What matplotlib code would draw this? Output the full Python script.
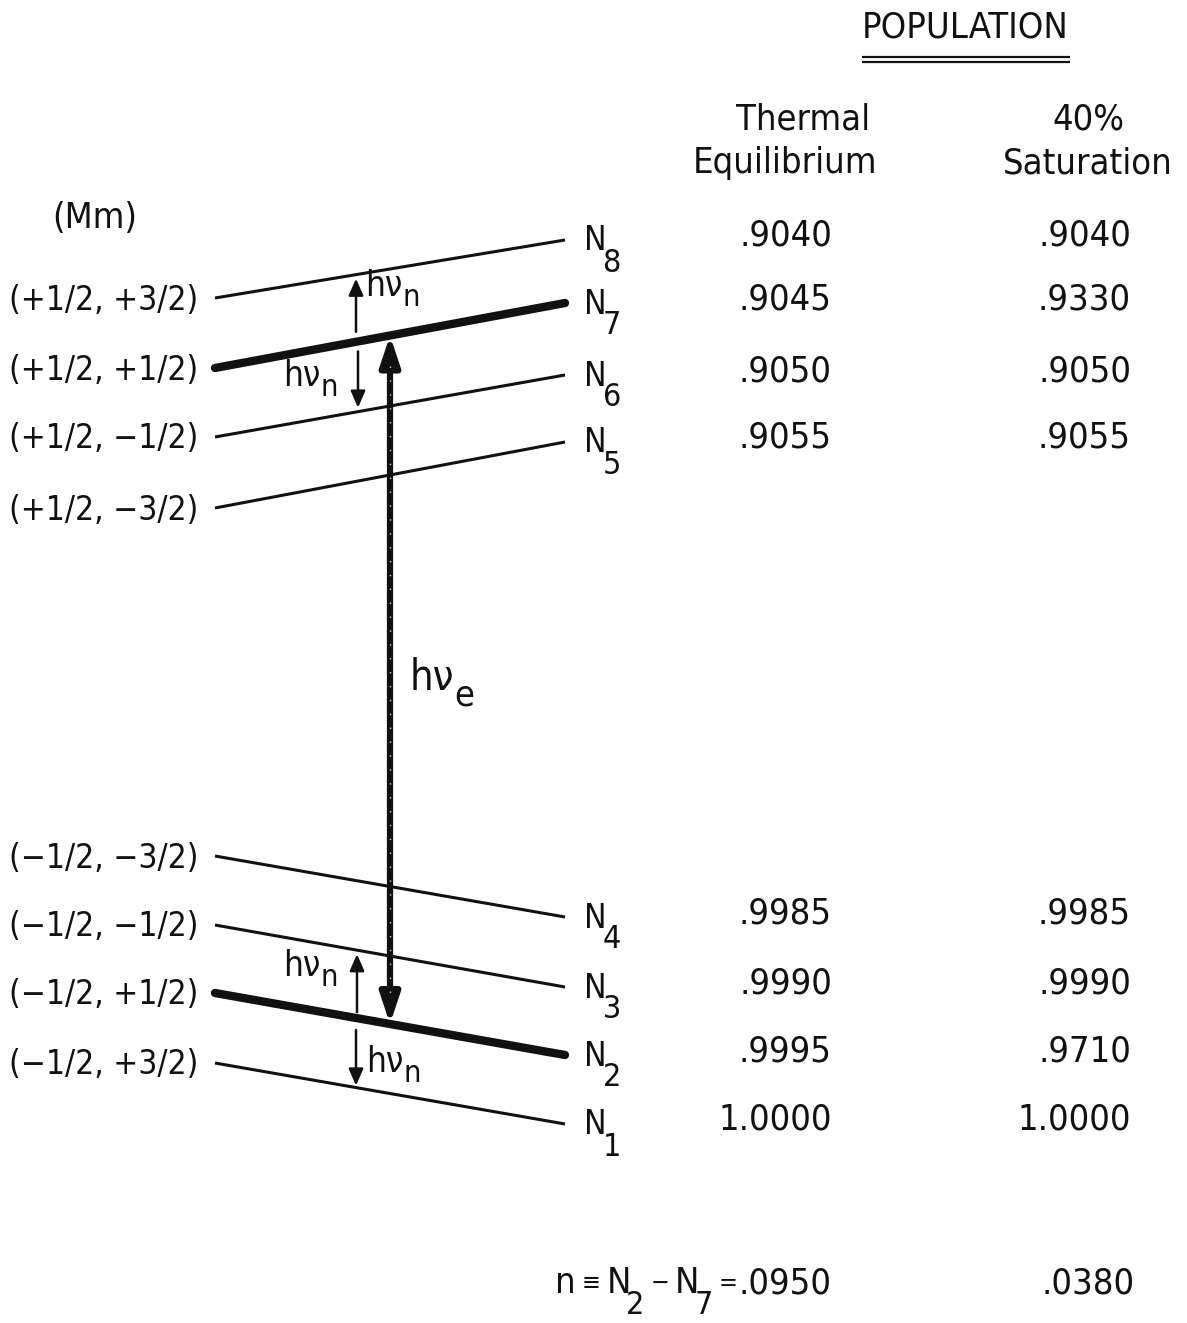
import matplotlib
matplotlib.use("Agg")
import matplotlib.pyplot as plt
from matplotlib.patches import FancyArrowPatch

plt.rcParams['font.family'] = ['DejaVu Sans']
plt.rcParams['font.stretch'] = 'condensed'

# ---- data -------------------------------------------------------------
level_index = ["8", "7", "6", "5", "4", "3", "2", "1"]
mm_labels = ["(+1/2, +3/2)", "(+1/2, +1/2)", "(+1/2, \u22121/2)", "(+1/2, \u22123/2)",
             "(\u22121/2, \u22123/2)", "(\u22121/2, \u22121/2)", "(\u22121/2, +1/2)",
             "(\u22121/2, +3/2)"]
thermal = [0.9040, 0.9045, 0.9050, 0.9055, 0.9985, 0.9990, 0.9995, 1.0000]
saturation = [0.9040, 0.9330, 0.9050, 0.9055, 0.9985, 0.9990, 0.9710, 1.0000]
upper_pumped, lower_pumped = "7", "2"

# ---- layout (pixel canvas) --------------------------------------------
W, H = 1187, 1323
x_left, x_right = 215, 565
left_y = [298, 368, 437, 508, 856, 925, 993, 1063]
right_y = [240, 303, 375, 442, 917, 987, 1055, 1124]
col1_x, col2_x = 832, 1131
ink = "#111111"
fs_val, fs_lab = 26, 24

fig = plt.figure(figsize=(W / 100, H / 100), dpi=100)
ax = fig.add_axes([0, 0, 1, 1])
ax.set_xlim(0, W)
ax.set_ylim(H, 0)
ax.axis("off")
renderer = fig.canvas.get_renderer()


def level_y(i, x):
    t = (x - x_left) / (x_right - x_left)
    return left_y[i] + t * (right_y[i] - left_y[i])


def fmt(v):
    s = f"{v:.4f}"
    return s[1:] if s.startswith("0") else s


def right_edge(t):
    bb = t.get_window_extent(renderer)
    return ax.transData.inverted().transform((bb.x1, bb.y0))[0]


def chain(x, y, pieces, size=26, sub_size=23, op_size=18, sub_drop=22, sub_kern=-3, gap=0):
    """Draw text pieces one after another; subscripts drop below the line."""
    sizes = {"main": size, "sub": sub_size, "op": op_size}
    first = True
    for txt, kind in pieces:
        if kind == "sub":
            x += sub_kern
        elif not first:
            x += gap
        t = ax.text(x, y + (sub_drop if kind == "sub" else 0), txt, fontsize=sizes[kind],
                    color=ink, ha="left", va="center")
        x = right_edge(t)
        first = False
    return x


# ---- headers ------------------------------------------------------------
ax.text(965, 28, "POPULATION", fontsize=26, color=ink, ha="center", va="center")
ax.plot([862, 1070], [57, 57], color=ink, lw=1.6, solid_capstyle="butt")
ax.plot([862, 1070], [62, 62], color=ink, lw=1.6, solid_capstyle="butt")
ax.text(803, 120, "Thermal", fontsize=26, color=ink, ha="center", va="center")
ax.text(785, 163, "Equilibrium", fontsize=26, color=ink, ha="center", va="center")
ax.text(1088, 120, "40%", fontsize=26, color=ink, ha="center", va="center")
ax.text(1088, 163, "Saturation", fontsize=26, color=ink, ha="center", va="center")
ax.text(95, 218, "(Mm)", fontsize=26, color=ink, ha="center", va="center")

# ---- energy levels ------------------------------------------------------
for i, idx in enumerate(level_index):
    thick = idx in (upper_pumped, lower_pumped)
    ax.plot([x_left, x_right], [left_y[i], right_y[i]], color=ink,
            lw=6.0 if thick else 2.2, solid_capstyle="round" if thick else "butt")
    ax.text(198, left_y[i] + 2, mm_labels[i], fontsize=fs_lab, color=ink,
            ha="right", va="center")
    ax.text(584, right_y[i] + 1, "N", fontsize=24, color=ink, ha="left", va="center")
    ax.text(603, right_y[i] + 23, idx, fontsize=23, color=ink, ha="left", va="center")
    ax.text(col1_x, right_y[i] - 4, fmt(thermal[i]), fontsize=fs_val, color=ink,
            ha="right", va="center")
    ax.text(col2_x, right_y[i] - 4, fmt(saturation[i]), fontsize=fs_val, color=ink,
            ha="right", va="center")

i7 = level_index.index(upper_pumped)
i2 = level_index.index(lower_pumped)

# ---- electron transition ------------------------------------------------
xe = 390
ax.add_patch(FancyArrowPatch((xe, level_y(i7, xe)), (xe, level_y(i2, xe)),
                             arrowstyle="<|-|>,head_length=0.9,head_width=0.3",
                             mutation_scale=20, lw=4.5, color=ink,
                             shrinkA=0, shrinkB=0))
ax.plot([xe, xe], [level_y(i7, xe) + 30, level_y(i2, xe) - 30], color="white",
        lw=1.0, ls=(0, (1, 9)), alpha=0.8)
chain(410, 678, [("hν", "main"), ("e", "sub")], size=30, sub_size=26, sub_drop=18,
      sub_kern=0)


# ---- nuclear transitions ------------------------------------------------
def small_arrow(x, y0, y1):
    ax.add_patch(FancyArrowPatch((x, y0), (x, y1),
                                 arrowstyle="-|>,head_length=0.5,head_width=0.22",
                                 mutation_scale=20, lw=1.8, color=ink,
                                 shrinkA=0, shrinkB=0))


def hvn(x, y):
    chain(x, y, [("hν", "main"), ("n", "sub")], size=25, sub_size=22, sub_drop=12,
          sub_kern=0)


i8, i6 = level_index.index("8"), level_index.index("6")
i3, i1 = level_index.index("3"), level_index.index("1")
small_arrow(356, level_y(i7, 356) - 10, level_y(i8, 356) + 4)
hvn(365, 286)
small_arrow(358, level_y(i7, 358) + 10, level_y(i6, 358) - 4)
hvn(283, 376)
small_arrow(357, level_y(i2, 357) - 6, level_y(i3, 357) + 4)
hvn(283, 966)
small_arrow(356, level_y(i2, 356) + 12, level_y(i1, 356) - 2)
hvn(366, 1062)

# ---- population difference between the pumped levels -------------------
n_thermal = thermal[i2] - thermal[i7]
n_sat = saturation[i2] - saturation[i7]
chain(555, 1283, [("n", "main"), ("≡", "op"), ("N", "main"), ("2", "sub"),
                  ("\u2212", "op"), ("N", "main"), ("7", "sub"), ("=", "op")],
      gap=6, sub_kern=-5)
ax.text(col1_x, 1283, fmt(n_thermal), fontsize=fs_val, color=ink,
        ha="right", va="center")
ax.text(col2_x + 4, 1283, fmt(n_sat), fontsize=fs_val, color=ink, ha="right", va="center")

fig.savefig("out.png", dpi=100)
